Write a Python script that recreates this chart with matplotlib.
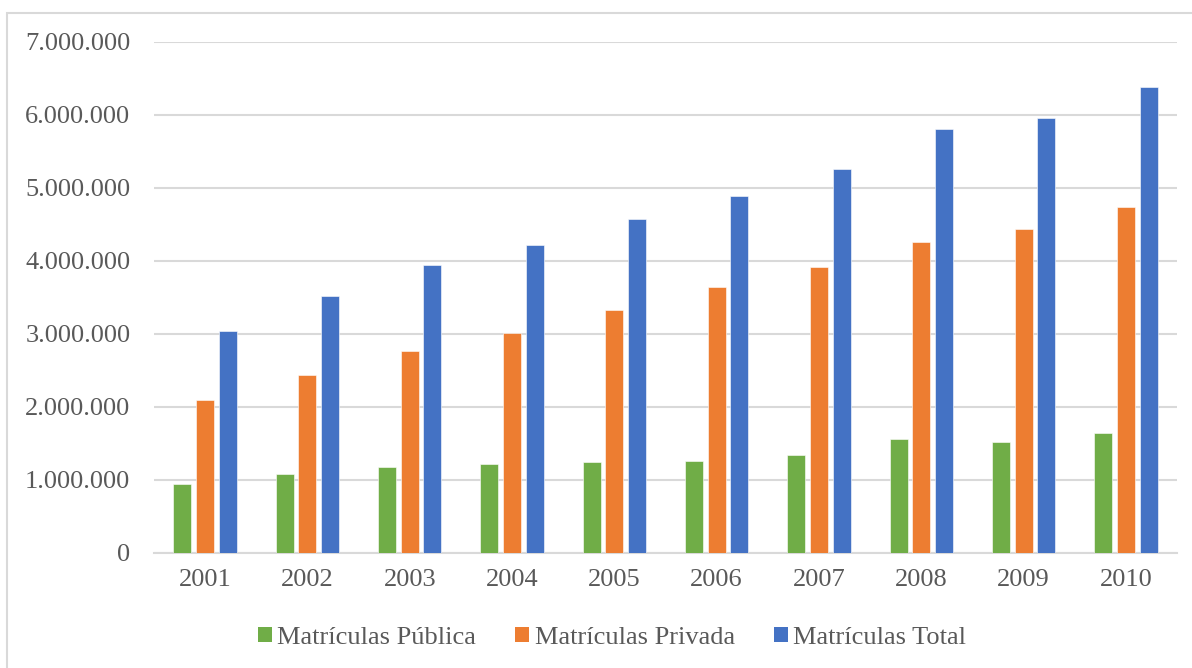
import matplotlib
matplotlib.use("Agg")
import matplotlib.pyplot as plt
from matplotlib.patches import Patch, Rectangle
from matplotlib.ticker import FuncFormatter
import numpy as np

years = ["2001", "2002", "2003", "2004", "2005", "2006", "2007", "2008", "2009", "2010"]
publica = [941000, 1082000, 1174000, 1211000, 1242000, 1252000, 1334000, 1553000, 1521000, 1636000]
privada = [2088000, 2430000, 2759000, 3010000, 3320000, 3635000, 3909000, 4252000, 4430000, 4736000]
total = [3033000, 3516000, 3937000, 4219000, 4567000, 4882000, 5252000, 5804000, 5951000, 6375000]
series_names = ["Matrículas Pública", "Matrículas Privada", "Matrículas Total"]
colors = ["#70AD47", "#ED7D31", "#4472C4"]

plt.rcParams['font.family'] = ['Liberation Serif', 'DejaVu Serif']
text_color = "#595959"

W, H = 1192, 668
fig = plt.figure(figsize=(W / 100, H / 100), dpi=100)
ax = fig.add_axes([154 / W, 1 - 552.7 / H, (1177 - 154) / W, (552.7 - 41.7) / H])

x = np.arange(len(years))
step = 0.222
width = 0.176
for i, (vals, c) in enumerate(zip([publica, privada, total], colors)):
    ax.bar(x + (i - 1) * step, vals, width=width, color=c, edgecolor="white", linewidth=0.4, zorder=3)

ax.set_xlim(-0.5, len(years) - 0.5)
ax.set_ylim(0, 7000000)
ax.set_yticks(np.arange(0, 7000001, 1000000))
ax.yaxis.set_major_formatter(FuncFormatter(lambda v, p: f"{int(v):,}".replace(",", ".")))
ax.set_xticks(x)
ax.set_xticklabels(years)
ax.grid(axis="y", color="#D9D9D9", linewidth=1.5, zorder=0)
ax.set_axisbelow(True)
for s in ["top", "right", "left"]:
    ax.spines[s].set_visible(False)
ax.spines["bottom"].set_color("#D9D9D9")
ax.spines["bottom"].set_linewidth(1.5)
ax.tick_params(axis="y", length=0, pad=17, labelsize=19, labelcolor=text_color)
ax.tick_params(axis="x", length=0, pad=12, labelsize=19, labelcolor=text_color)

handles = [Patch(facecolor=c, edgecolor="none") for c in colors]
fig.legend(handles, series_names, loc="center", bbox_to_anchor=(612 / W, 1 - 638 / H),
           ncol=3, frameon=False, fontsize=19, labelcolor=text_color,
           handlelength=0.53, handleheight=0.53, handletextpad=0.2, columnspacing=1.5)

fig.patches.append(Rectangle((7 / W, -0.1), 1.2, 1 - 13 / H + 0.1, transform=fig.transFigure,
                             fill=False, edgecolor="#D9D9D9", linewidth=1.5))

fig.savefig("out.png", dpi=100)
